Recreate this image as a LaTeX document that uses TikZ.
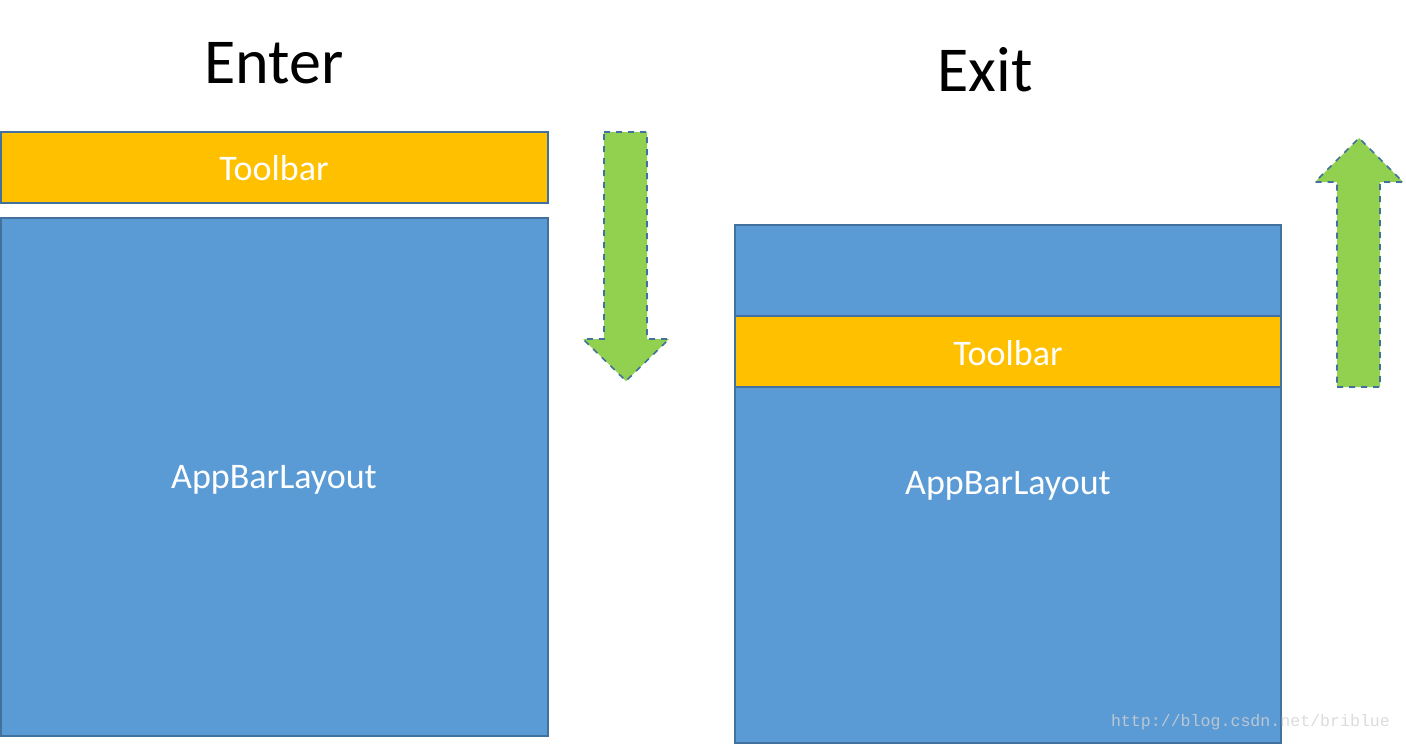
\documentclass[tikz,border=0pt]{standalone}
\usepackage{fontspec}
\setmainfont{Carlito}
\newfontfamily\wmfont{Liberation Mono}
\definecolor{layoutblue}{HTML}{5B9BD5}
\definecolor{edgeblue}{HTML}{41719C}
\definecolor{baryellow}{HTML}{FFC000}
\definecolor{arrowgreen}{HTML}{92D050}
\tikzset{>=stealth}

\begin{document}
\begin{tikzpicture}[x=0.5pt,y=-0.5pt,
    panel/.style={draw=edgeblue, line width=1pt},
    caption/.style={text=white, font=\fontsize{18}{22}\selectfont},
    heading/.style={font=\fontsize{32}{38}\selectfont},
    movearrow/.style={draw=edgeblue, fill=arrowgreen, line width=0.8pt, dashed, line join=miter}]
    \useasboundingbox (0,0) rectangle (1406,744);
    % Enter
    \node[heading] (enter) at (274,63) {Enter};
    \fill[layoutblue] (1,218) rectangle (548,736);
    \draw[panel] (1,218) rectangle (548,736);
    \node[caption] (lapp) at (274,480) {AppBarLayout};
    \draw[panel, fill=baryellow] (1,132) rectangle (548,203);
    \node[caption] (lbar) at (274,168) {Toolbar};
    \draw[movearrow] (604,132) -- (647,132) -- (647,339) -- (669,339)
        -- (626,381) -- (583,339) -- (604,339) -- cycle;
    % Exit
    \node[heading] (exit) at (985,70) {Exit};
    \draw[panel, fill=layoutblue] (735,225) rectangle (1281,743);
    \draw[panel, fill=baryellow] (735,316) rectangle (1281,387);
    \node[caption] (rbar) at (1008,353) {Toolbar};
    \node[caption] (rapp) at (1008,486) {AppBarLayout};
    \draw[movearrow] (1337,387) -- (1380,387) -- (1380,182) -- (1403,182)
        -- (1359,138) -- (1315,182) -- (1337,182) -- cycle;
    \node[text=gray!35, opacity=0.8, font=\wmfont\fontsize{8.3}{10}\selectfont, anchor=east]
        (mark) at (1397,722) {http://blog.csdn.net/briblue};
\end{tikzpicture}
\end{document}
